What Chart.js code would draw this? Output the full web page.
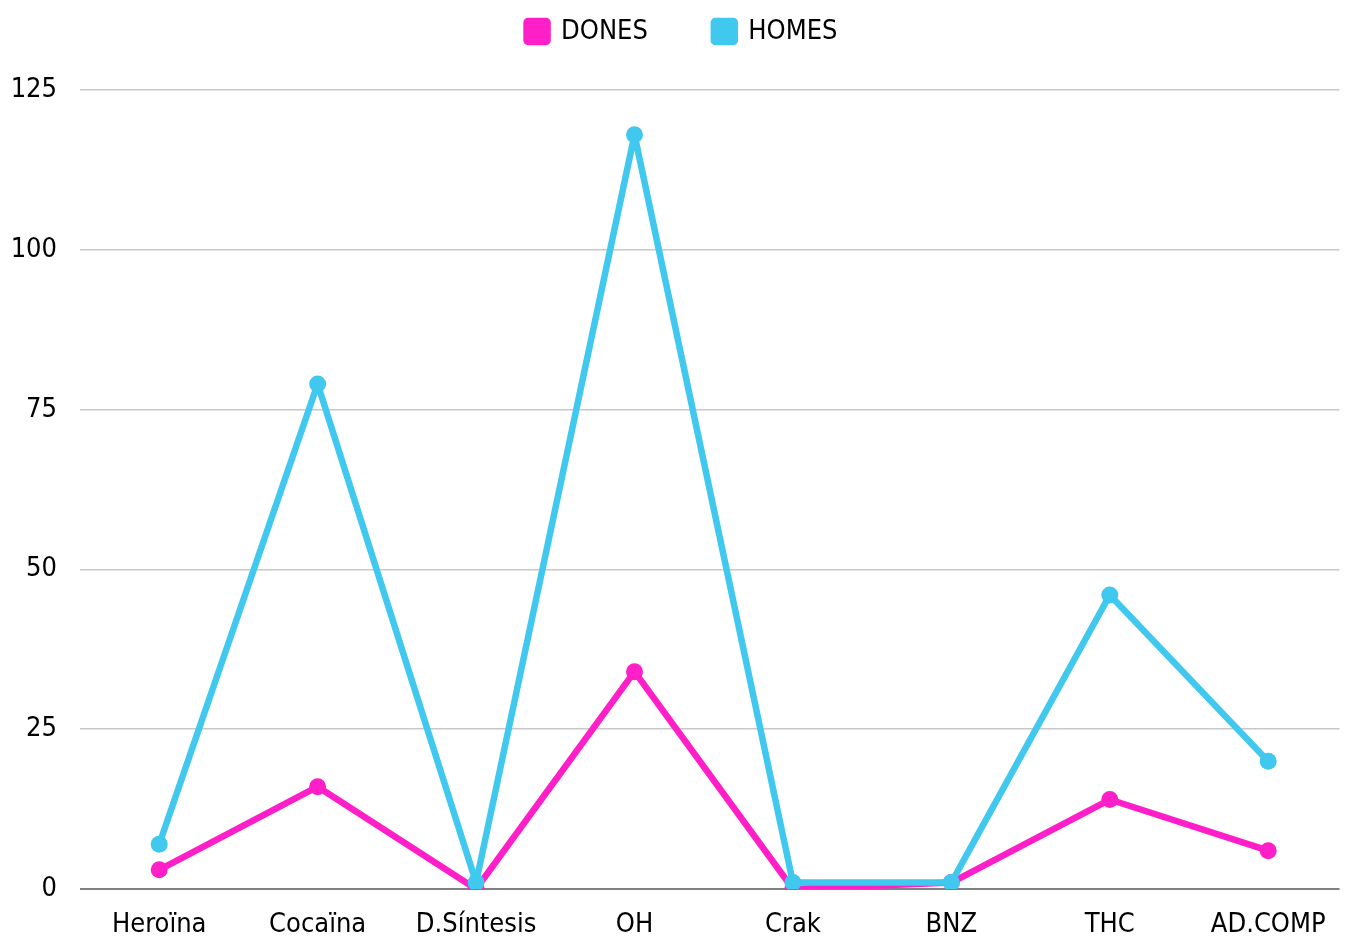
<!DOCTYPE html>
<html>
<head>
<meta charset="utf-8">
<script src="https://cdn.jsdelivr.net/npm/chart.js@4.4.1/dist/chart.umd.min.js"></script>
<style>
    html, body { margin: 0; padding: 0; background: #fff; overflow: hidden; }
    #wrap { position: relative; width: 100vw; height: 100vh; }
</style>
</head>
<body>
<div id="wrap"><canvas id="chart"></canvas></div>
<script>
const categories = ['Heroïna', 'Cocaïna', 'D.Síntesis', 'OH', 'Crak', 'BNZ', 'THC', 'AD.COMP'];
const dones = [3, 16, 0, 34, 0, 1, 14, 6];
const homes = [7, 79, 1, 118, 1, 1, 46, 20];
const yTicks = [0, 25, 50, 75, 100, 125];

const FONT = "'DejaVu Sans Condensed', 'Liberation Sans Narrow', sans-serif";
const PINK = '#ff1fc8';
const BLUE = '#40c8ee';

// the original plot runs a little past the right edge of the picture
const X_MIN = -0.5;
const X_MAX = 7.45;

// legend: fixed height so the plot starts lower, and nudge it a bit
const legendTweak = {
    id: 'legendTweak',
    beforeInit(chart) {
        const legend = chart.legend;
        const origFit = legend.fit;
        legend.fit = function () {
            origFit.call(this);
            this.height = 138;
        };
        const origDraw = legend.draw;
        legend.draw = function () {
            const c = this.ctx;
            c.save();
            c.translate(2, 0);
            origDraw.call(this);
            c.restore();
        };
    }
};

function lineDataset(label, values, color, order) {
    return {
        label: label,
        data: values.map((v, i) => ({ x: i, y: v })),
        borderColor: color,
        backgroundColor: color,
        borderWidth: 6.5,
        borderJoinStyle: 'round',
        pointRadius: 8.5,
        pointBackgroundColor: color,
        pointBorderWidth: 0,
        tension: 0,
        order: order
    };
}

const ctx = document.getElementById('chart').getContext('2d');
new Chart(ctx, {
    type: 'line',
    data: {
        datasets: [
            lineDataset('DONES', dones, PINK, 1),
            lineDataset('HOMES', homes, BLUE, 0)
        ]
    },
    plugins: [legendTweak],
    options: {
        responsive: true,
        maintainAspectRatio: false,
        animation: false,
        layout: { padding: { left: 12, top: -48, right: 0, bottom: 0 } },
        plugins: {
            tooltip: { enabled: false },
            legend: {
                position: 'top',
                labels: {
                    sort: (a, b) => a.datasetIndex - b.datasetIndex,
                    boxWidth: 21,
                    boxHeight: 21,
                    useBorderRadius: true,
                    borderRadius: 1.5,
                    padding: 66,
                    color: '#000',
                    font: { family: FONT, size: 27 }
                }
            }
        },
        scales: {
            x: {
                type: 'linear',
                min: X_MIN,
                max: X_MAX,
                afterBuildTicks: axis => {
                    axis.ticks = categories.map((_, i) => ({ value: i }));
                },
                grid: { display: false, drawTicks: false },
                border: { display: false },
                afterFit: axis => { axis.height = 52; },
                ticks: {
                    color: '#000',
                    padding: 20,
                    maxRotation: 0,
                    autoSkip: false,
                    callback: v => categories[v],
                    font: { family: FONT, size: 27 }
                }
            },
            y: {
                min: 0,
                max: 125,
                afterBuildTicks: axis => {
                    axis.ticks = yTicks.map(v => ({ value: v }));
                },
                afterFit: axis => { axis.width = 68; },
                grid: {
                    color: c => c.tick && c.tick.value === 0 ? '#808080' : '#c8c8c8',
                    lineWidth: c => c.tick && c.tick.value === 0 ? 2 : 1.5,
                    drawTicks: false
                },
                border: { display: false },
                ticks: {
                    color: '#000',
                    padding: 23,
                    font: { family: FONT, size: 27 }
                }
            }
        }
    }
});
</script>
</body>
</html>
